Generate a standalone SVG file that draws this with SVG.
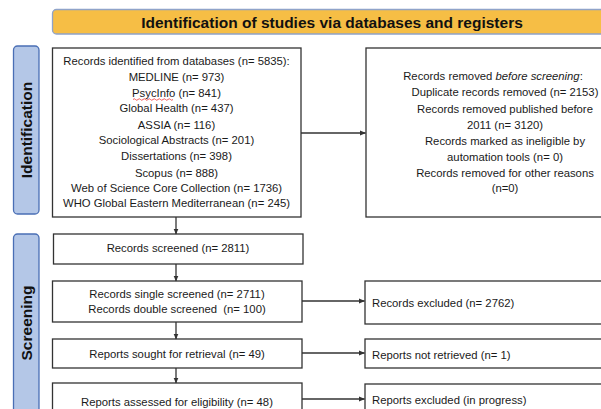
<svg xmlns="http://www.w3.org/2000/svg" width="601" height="409" viewBox="0 0 601 409">
<defs>
<marker id="ah" markerWidth="6" markerHeight="6" refX="5.5" refY="3" orient="auto" markerUnits="userSpaceOnUse">
<path d="M0,0.5 L6,3 L0,5.5 Z" fill="#333"/>
</marker>
</defs>
<style>
.box{fill:#fff;stroke:#333;stroke-width:1.3}
.hdr{fill:#F6BE45;stroke:#8FA3C9;stroke-width:1.3}
.side{fill:#B4C7E7;stroke:#4A6FB5;stroke-width:1.3}
.t{font-family:"Liberation Sans",Arial,sans-serif;font-size:11.3px;fill:#1a1a1a}
.c{text-anchor:middle}
.b{font-family:"Liberation Sans",Arial,sans-serif;font-weight:bold;font-size:15.5px;fill:#111;text-anchor:middle}
.conn{stroke:#333;stroke-width:1.3;fill:none}
</style>
<rect width="601" height="409" fill="#fff"/>
<g id="header">
<rect class="hdr" x="52.5" y="9.5" width="570" height="24.5" rx="4"/>
<text class="b" x="332" y="27.5">Identification of studies via databases and registers</text>
</g>
<g id="side-identification">
<rect class="side" x="13.5" y="46" width="25.5" height="168" rx="4"/>
<text class="b" transform="translate(31.5,130) rotate(-90)">Identification</text>
</g>
<g id="side-screening">
<rect class="side" x="13.5" y="234" width="25.5" height="190" rx="4"/>
<text class="b" transform="translate(31.5,323) rotate(-90)">Screening</text>
</g>
<g id="records-identified">
<rect class="box" x="52.5" y="48" width="248.5" height="169"/>
<text class="t c" x="176.5" y="65">Records identified from databases (n= 5835):</text>
<text class="t c" x="176.5" y="80.5">MEDLINE (n= 973)</text>
<text class="t c" x="176.5" y="96.5">PsycInfo (n= 841)</text>
<path d="M133,99.5 q1.25,-1.5 2.5,0 t2.5,0 t2.5,0 t2.5,0 t2.5,0 t2.5,0 t2.5,0 t2.5,0 t2.5,0 t2.5,0 t2.5,0 t2.5,0 t2.5,0 t2.5,0 t2.5,0 t2.5,0" fill="none" stroke="#e33" stroke-width="0.8"/>
<text class="t c" x="176.5" y="112">Global Health (n= 437)</text>
<text class="t c" x="176.5" y="128.5">ASSIA (n= 116)</text>
<text class="t c" x="176.5" y="144">Sociological Abstracts (n= 201)</text>
<text class="t c" x="176.5" y="160">Dissertations (n= 398)</text>
<text class="t c" x="176.5" y="176.5">Scopus (n= 888)</text>
<text class="t c" x="176.5" y="192">Web of Science Core Collection (n= 1736)</text>
<text class="t c" x="176.5" y="207">WHO Global Eastern Mediterranean (n= 245)</text>
</g>
<g id="records-removed">
<rect class="box" x="366" y="48" width="260" height="169"/>
<text class="t c" x="493" y="80">Records removed <tspan font-style="italic">before screening</tspan>:</text>
<text class="t c" x="505" y="96">Duplicate records removed (n= 2153)</text>
<text class="t c" x="505" y="112.5">Records removed published before</text>
<text class="t c" x="505" y="129">2011 (n= 3120)</text>
<text class="t c" x="505" y="145">Records marked as ineligible by</text>
<text class="t c" x="505" y="160.5">automation tools (n= 0)</text>
<text class="t c" x="505" y="177">Records removed for other reasons</text>
<text class="t c" x="505" y="192">(n=0)</text>
</g>
<g id="records-screened">
<rect class="box" x="53.5" y="234" width="249.5" height="30"/>
<text class="t c" x="178" y="252">Records screened (n= 2811)</text>
</g>
<g id="records-single-double">
<rect class="box" x="52.5" y="281" width="249.5" height="41"/>
<text class="t c" x="177" y="298">Records single screened (n= 2711)</text>
<text class="t c" x="177" y="313" style="white-space:pre" xml:space="preserve">Records double screened  (n= 100)</text>
</g>
<g id="reports-sought">
<rect class="box" x="52.5" y="339" width="249.5" height="29"/>
<text class="t c" x="177" y="358">Reports sought for retrieval (n= 49)</text>
</g>
<g id="reports-assessed">
<rect class="box" x="52.5" y="383" width="249.5" height="40"/>
<text class="t c" x="177" y="406">Reports assessed for eligibility (n= 48)</text>
</g>
<g id="records-excluded">
<rect class="box" x="365" y="281" width="260" height="43"/>
<text class="t" x="372" y="307">Records excluded (n= 2762)</text>
</g>
<g id="reports-not-retrieved">
<rect class="box" x="365" y="339" width="260" height="29"/>
<text class="t" x="372" y="359">Reports not retrieved (n= 1)</text>
</g>
<g id="reports-excluded">
<rect class="box" x="365" y="384" width="260" height="40"/>
<text class="t" x="372" y="404">Reports excluded (in progress)</text>
</g>
<g id="connectors">
<line class="conn" x1="301" y1="133" x2="365.5" y2="133" marker-end="url(#ah)"/>
<line class="conn" x1="176" y1="217" x2="176" y2="234" marker-end="url(#ah)"/>
<line class="conn" x1="176" y1="264" x2="176" y2="281" marker-end="url(#ah)"/>
<line class="conn" x1="176" y1="322" x2="176" y2="339" marker-end="url(#ah)"/>
<line class="conn" x1="176" y1="368" x2="176" y2="383" marker-end="url(#ah)"/>
<line class="conn" x1="302" y1="301" x2="364.5" y2="301" marker-end="url(#ah)"/>
<line class="conn" x1="302" y1="353" x2="364.5" y2="353" marker-end="url(#ah)"/>
<line class="conn" x1="302" y1="399" x2="364.5" y2="399" marker-end="url(#ah)"/>
</g>
</svg>
